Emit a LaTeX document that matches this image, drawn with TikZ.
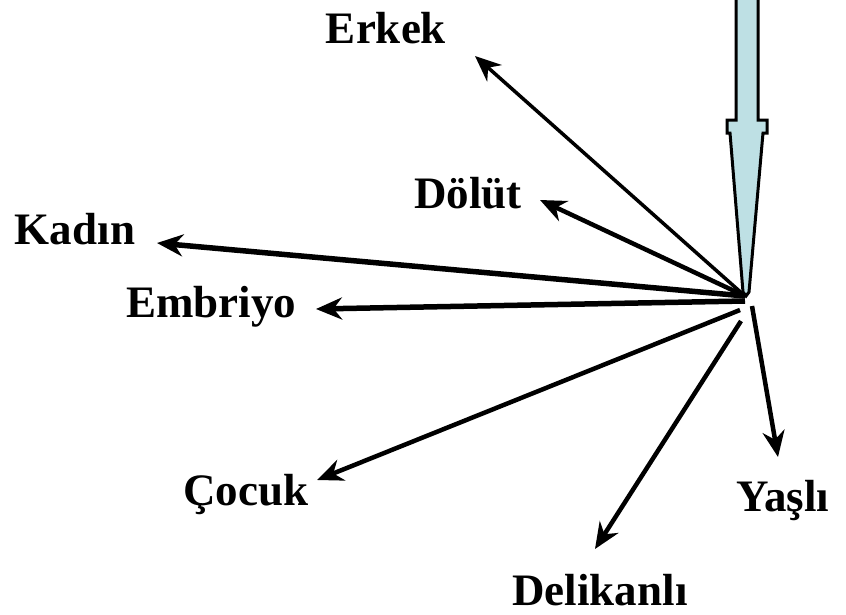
\documentclass[tikz,border=0pt]{standalone}
\usepackage{fontspec}
\setmainfont{Liberation Serif}
\usetikzlibrary{arrows.meta}
\definecolor{okmavi}{RGB}{190,224,228}
\begin{document}
\begin{tikzpicture}[x=1pt, y=-1pt, font=\bfseries\fontsize{45}{54}\selectfont,
	etiket/.style={anchor=base, inner sep=0pt},
	ok/.style={-{Stealth[length=26pt,width=22pt]}, line width=4.5pt}]
			\useasboundingbox (0,0) rectangle (846,614);
			\clip (0,0) rectangle (846,614);
			% buyuk ok
			\draw [line width=3pt, fill=okmavi] (736,-5) -- (736,120) -- (727,120) -- (727,133) -- (730,133)
				-- (743,292) -- (746,296) -- (749,292) -- (763,133) -- (767,133) -- (767,120)
				-- (758,120) -- (758,-5) -- cycle;
			\coordinate (merkez) at (745,296);
			\coordinate (merkezE) at (745,301);
			\coordinate (merkezC) at (740,310);
			\coordinate (merkezD) at (741,321);
			\coordinate (merkezY) at (752,306);
			% etiketler
			\node [etiket] (erkek) at (386,43) {Erkek};
			\node [etiket] (dolut) at (468,208) {Dölüt};
			\node [etiket] (kadin) at (75,244) {Kadın};
			\node [etiket] (embriyo) at (211,317) {Embriyo};
			\node [etiket] (cocuk) at (246,505) {Çocuk};
			\node [etiket] (delikanli) at (600,605) {Delikanlı};
			\node [etiket] (yasli) at (783,511) {Yaşlı};
			% ok uclari
			\coordinate (erkekUc) at (475,56);
			\coordinate (dolutUc) at (540,200);
			\coordinate (kadinUc) at (157,243);
			\coordinate (embriyoUc) at (316,309);
			\coordinate (cocukUc) at (317,480);
			\coordinate (delikanliUc) at (595,549);
			\coordinate (yasliUc) at (778,457);
			% oklar
			\draw [ok, line width=3.5pt] (merkez) -- (erkekUc);
			\draw [ok] (merkez) -- (dolutUc);
			\draw [ok, line width=5.5pt] (merkez) -- (kadinUc);
			\draw [ok, line width=5.5pt] (merkezE) -- (embriyoUc);
			\draw [ok] (merkezC) -- (cocukUc);
			\draw [ok] (merkezD) -- (delikanliUc);
			\draw [ok] (merkezY) -- (yasliUc);
		\end{tikzpicture}
\end{document}
